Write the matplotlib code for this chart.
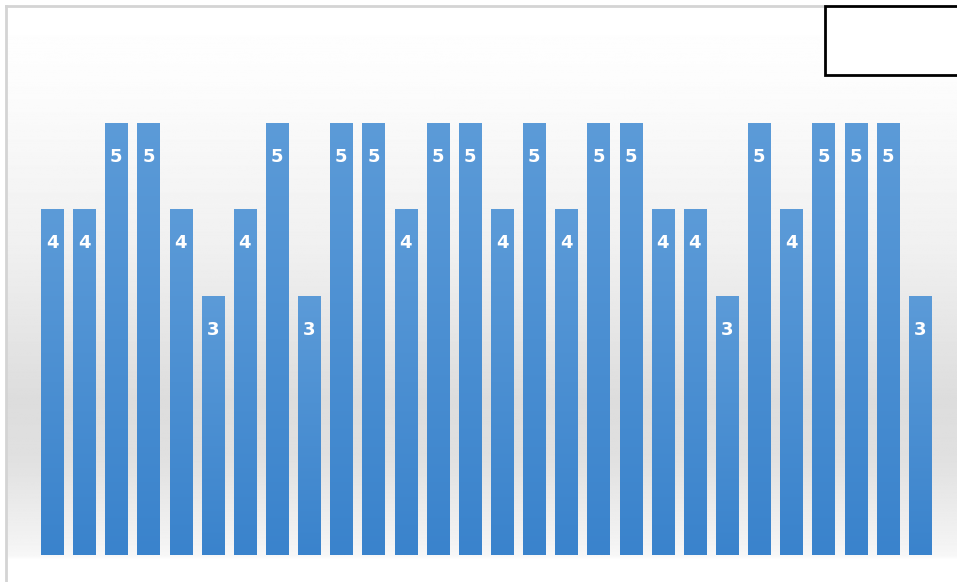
import matplotlib.pyplot as plt
from matplotlib.patches import Rectangle
from matplotlib.colors import LinearSegmentedColormap
import numpy as np

# values, left to right
scores = [4, 4, 5, 5, 4, 3, 4, 5, 3, 5, 5, 4, 5, 5, 4, 5, 4, 5, 5, 4, 4, 3, 5, 4, 5, 5, 5, 3]
positions = list(range(len(scores)))

W, H = 957, 582
fig = plt.figure(figsize=(W / 100, H / 100), dpi=100)
fig.patch.set_facecolor('white')

# ---- background panel with soft grey band ----
bg = fig.add_axes([6 / W, 0, (W - 6) / W, (H - 6) / H], zorder=0)
bg.set_axis_off()
py = np.linspace(6, H, 600)  # pixel rows, top to bottom
shade = np.interp(py, [6, 80, 250, 400, 460, 540, 556, 560],
                  [1.0, 0.99, 0.94, 0.865, 0.88, 0.95, 0.97, 1.0])
grad = np.tile(shade[:, None], (1, 10))
bg.imshow(grad, cmap='gray', vmin=0, vmax=1, aspect='auto', extent=[0, 1, 1, 0])
bg.set_xlim(0, 1)
bg.set_ylim(1, 0)

# frame lines top and left
fig.add_artist(plt.Line2D([6 / W, 825 / W], [1 - 6 / H, 1 - 6 / H], color='#d4d4d4', lw=2))
fig.add_artist(plt.Line2D([6 / W, 6 / W], [0, 1 - 6 / H], color='#d4d4d4', lw=2))

# ---- bar axes ----
left, right = 36, 936
bottom, top = 555, 20
ax = fig.add_axes([left / W, 1 - bottom / H, (right - left) / W, (bottom - top) / H], zorder=1)
ax.patch.set_alpha(0)
ax.set_axis_off()

bars = ax.bar(positions, scores, width=0.69, color='#4a8fd4', edgecolor='none')

# vertical gradient inside each bar, lighter at the top
vals = np.linspace(0, 1, 256)[:, None]
blue = LinearSegmentedColormap.from_list('blue', ['#5c9bd8', '#3a83cc'])
for b in bars:
    x0, y0 = b.get_x(), b.get_y()
    im = ax.imshow(vals, cmap=blue, aspect='auto',
                   extent=[x0, x0 + b.get_width(), y0, y0 + b.get_height()], zorder=2)
    im.set_clip_path(b)

ax.set_xlim(-0.5, len(scores) - 0.5)
ax.set_ylim(0, (bottom - top) / 86.4)

for p, v in zip(positions, scores):
    ax.annotate(str(v), (p, v), xytext=(0, -24.5), textcoords='offset points',
                ha='center', va='center', color='white', fontsize=13,
                fontweight='bold', zorder=3)

# empty legend box in the corner
fig.add_artist(Rectangle((825 / W, 1 - 75 / H), (W - 825 + 5) / W, 69 / H,
                         transform=fig.transFigure, facecolor='white',
                         edgecolor='black', lw=2, zorder=5))

fig.savefig('out.png', dpi=100)
